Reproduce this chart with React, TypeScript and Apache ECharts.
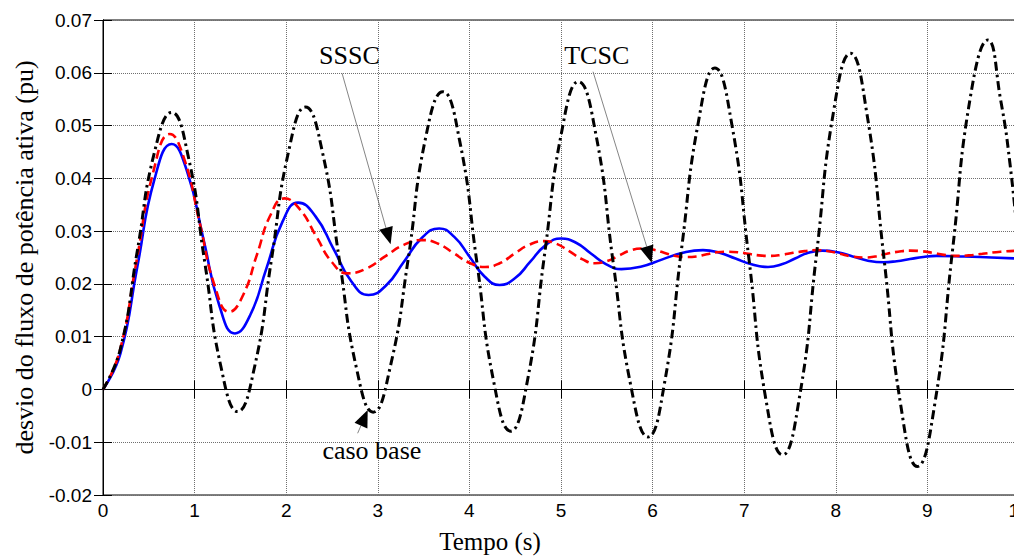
import { useEffect, useRef } from "react";
import * as echarts from "echarts";

// caso base (black dash-dot)
const casoBase: [number, number][] = [
  [0, 0], [0.19, 0.0077], [0.375, 0.0263], [0.56, 0.0448], [0.75, 0.0525],
  [0.93, 0.0442], [1.11, 0.0242], [1.29, 0.0041], [1.47, -0.0042],
  [1.655, 0.0043], [1.84, 0.0247], [2.025, 0.045], [2.21, 0.0535],
  [2.395, 0.045], [2.58, 0.0246], [2.765, 0.0042], [2.95, -0.0043],
  [3.14, 0.0046], [3.33, 0.0245], [3.52, 0.0475], [3.71, 0.0564],
  [3.895, 0.047], [4.08, 0.0243], [4.265, 0.0015], [4.45, -0.0079],
  [4.635, 0.0018], [4.82, 0.0255], [5.005, 0.0486], [5.19, 0.0583],
  [5.38, 0.0484], [5.57, 0.024], [5.76, 0.0009], [5.95, -0.009],
  [6.13, 0.0012], [6.315, 0.0265], [6.5, 0.0507], [6.68, 0.0609],
  [6.865, 0.0502], [7.05, 0.025], [7.235, -0.0017], [7.42, -0.0124],
  [7.605, -0.0013], [7.79, 0.0257], [7.975, 0.0526], [8.16, 0.0637],
  [8.34, 0.0522], [8.525, 0.025], [8.71, -0.0031], [8.89, -0.0146],
  [9.08, -0.0028], [9.275, 0.0265], [9.47, 0.0555], [9.66, 0.0662],
  [9.8, 0.0548], [9.9, 0.043], [10, 0.026],
];

// SSSC (red dashed)
const sssc: [number, number][] = [
  [0, 0], [0.18, 0.0071], [0.365, 0.0242], [0.55, 0.0413], [0.73, 0.0484],
  [0.89, 0.0435], [1.055, 0.0316], [1.22, 0.0196], [1.38, 0.0147],
  [1.53, 0.0179], [1.68, 0.0255], [1.83, 0.0331], [1.98, 0.0362],
  [2.15, 0.0341], [2.325, 0.0291], [2.5, 0.0241], [2.67, 0.022],
  [2.875, 0.0229], [3.08, 0.0252], [3.285, 0.0274], [3.49, 0.0283],
  [3.66, 0.0276], [3.83, 0.0258], [4.0, 0.024], [4.17, 0.0232],
  [4.33, 0.0239], [4.49, 0.0257], [4.65, 0.0274], [4.81, 0.0281],
  [4.95, 0.0276], [5.09, 0.0262], [5.23, 0.0247], [5.37, 0.0239],
  [5.5, 0.0243], [5.625, 0.0253], [5.75, 0.0263], [5.88, 0.0267],
  [6.0, 0.0265], [6.125, 0.0259], [6.25, 0.0253], [6.37, 0.0251],
  [6.48, 0.0252], [6.59, 0.0256], [6.7, 0.026], [6.81, 0.0261],
  [6.93, 0.026], [7.045, 0.0257], [7.16, 0.0254], [7.28, 0.0253],
  [7.41, 0.0255], [7.535, 0.0259], [7.66, 0.0262], [7.79, 0.0264],
  [7.92, 0.0262], [8.045, 0.0257], [8.17, 0.0252], [8.3, 0.025],
  [8.43, 0.0252], [8.555, 0.0257], [8.68, 0.0261], [8.81, 0.0263],
  [8.93, 0.0262], [9.05, 0.0259], [9.18, 0.0255], [9.3, 0.0253],
  [9.45, 0.0254], [9.6, 0.0257], [9.8, 0.0261], [10, 0.0263],
];

// TCSC (blue solid)
const tcsc: [number, number][] = [
  [0, 0], [0.19, 0.0068], [0.375, 0.0233], [0.56, 0.0397], [0.75, 0.0465],
  [0.92, 0.0412], [1.095, 0.0286], [1.27, 0.0159], [1.44, 0.0106],
  [1.61, 0.0142], [1.785, 0.023], [1.96, 0.0318], [2.13, 0.0354],
  [2.32, 0.0328], [2.515, 0.0267], [2.71, 0.0205], [2.9, 0.0179],
  [3.09, 0.0197], [3.285, 0.0242], [3.48, 0.0287], [3.67, 0.0305],
  [3.835, 0.0289], [4.0, 0.0252], [4.165, 0.0214], [4.33, 0.0198],
  [4.5, 0.0211], [4.665, 0.0242], [4.83, 0.0273], [5.0, 0.0286],
  [5.165, 0.0278], [5.33, 0.0257], [5.495, 0.0237], [5.66, 0.0228],
  [5.88, 0.0233], [6.1, 0.0246], [6.33, 0.0259], [6.55, 0.0264],
  [6.73, 0.0259], [6.905, 0.0248], [7.08, 0.0237], [7.26, 0.0232],
  [7.41, 0.0237], [7.555, 0.0248], [7.7, 0.0259], [7.85, 0.0263],
  [8.02, 0.026], [8.185, 0.0252], [8.35, 0.0244], [8.52, 0.0241],
  [8.665, 0.0243], [8.81, 0.0247], [8.955, 0.0251], [9.1, 0.0253],
  [9.4, 0.0252], [9.7, 0.025], [10, 0.0248],
];

const xName = "Tempo (s)";
const yName = "desvio do fluxo de potência ativa (pu)";

// annotations: label position, leader start, arrow tip (data coords)
const annotations = [
  { label: "SSSC", at: [2.69, 0.0633], from: [2.61, 0.0599], to: [3.14, 0.0275] },
  { label: "TCSC", at: [5.39, 0.0632], from: [5.35, 0.0602], to: [5.99, 0.024] },
  { label: "caso base", at: [2.935, -0.0115], from: [2.78, -0.0083], to: [2.89, -0.0039] },
];

const serif = '"Liberation Serif", "Times New Roman", serif';
const sans = '"Liberation Sans", Arial, sans-serif';

const CHART_W = 1040;

export default function App() {
  const ref = useRef<HTMLDivElement>(null);
  useEffect(() => {
    if (!ref.current) return;
    const chart = echarts.init(ref.current, null, { renderer: "svg" });
    const tickLabel = { color: "#000", fontFamily: sans, fontSize: 19 };
    chart.setOption({
      animation: false,
      backgroundColor: "#fff",
      grid: { left: 103, top: 20, right: CHART_W - 1019, bottom: 64, show: true, borderColor: "#000", borderWidth: 1, backgroundColor: "transparent" },
      xAxis: [
        {
          type: "value", min: 0, max: 10, interval: 1,
          name: xName, nameLocation: "middle", nameGap: 34,
          nameTextStyle: { fontFamily: serif, fontSize: 25, color: "#000", padding: [0, 142, 0, 0] },
          axisLine: { show: true, lineStyle: { color: "#000", width: 1 } },
          axisTick: { show: true, inside: true, length: 9, lineStyle: { color: "#000" } },
          axisLabel: { ...tickLabel, margin: 6 },
          splitLine: { show: true, lineStyle: { color: "#6f6f6f", type: "dotted", width: 1 } },
        },
        {
          type: "value", min: 0, max: 10, interval: 1, position: "top",
          axisLine: { show: true, lineStyle: { color: "#000" } },
          axisTick: { show: true, inside: true, length: 9, lineStyle: { color: "#000" } },
          axisLabel: { show: false }, splitLine: { show: false },
        },
      ],
      yAxis: [
        {
          type: "value", min: -0.02, max: 0.07, interval: 0.01,
          name: yName, nameLocation: "middle", nameGap: 66,
          nameTextStyle: { fontFamily: serif, fontSize: 26, color: "#000" },
          axisLine: { show: true, lineStyle: { color: "#000", width: 1 } },
          axisTick: { show: true, inside: true, length: 9, lineStyle: { color: "#000" } },
          axisLabel: {
            ...tickLabel, margin: 11, padding: [6, 0, 0, 0],
            formatter: (v: number) => String(Math.round(v * 100) / 100),
          },
          splitLine: { show: true, lineStyle: { color: "#6f6f6f", type: "dotted", width: 1 } },
        },
        {
          type: "value", min: -0.02, max: 0.07, interval: 0.01, position: "right",
          axisLine: { show: true, lineStyle: { color: "#000" } },
          axisTick: { show: true, inside: true, length: 9, lineStyle: { color: "#000" } },
          axisLabel: { show: false }, splitLine: { show: false },
        },
      ],
      series: [
        {
          name: "TCSC", type: "line", data: tcsc, smooth: 0.5, showSymbol: false,
          lineStyle: { color: "#0000ff", width: 2.6, type: "solid" },
        },
        {
          name: "SSSC", type: "line", data: sssc, smooth: 0.5, showSymbol: false,
          lineStyle: { color: "#ff0000", width: 2.6, type: [9, 5] },
        },
        {
          name: "caso base", type: "line", data: casoBase, smooth: 0.5, showSymbol: false,
          lineStyle: { color: "#000", width: 3, type: [9, 4, 2.5, 4] },
        },
      ],
    });

    const graphics: any[] = [];
    for (const a of annotations) {
      const pt = chart.convertToPixel({ gridIndex: 0 }, a.at) as number[];
      const p0 = chart.convertToPixel({ gridIndex: 0 }, a.from) as number[];
      const p1 = chart.convertToPixel({ gridIndex: 0 }, a.to) as number[];
      const dx = p1[0] - p0[0];
      const dy = p1[1] - p0[1];
      const len = Math.hypot(dx, dy) || 1;
      const ux = dx / len;
      const uy = dy / len;
      const L = 17;
      const W = 7;
      const bx = p1[0] - L * ux;
      const by = p1[1] - L * uy;
      graphics.push({
        type: "line", z: 10,
        shape: { x1: p0[0], y1: p0[1], x2: bx, y2: by },
        style: { stroke: "#666", lineWidth: 0.8 },
      });
      graphics.push({
        type: "polygon", z: 10,
        shape: { points: [[p1[0], p1[1]], [bx - W * uy, by + W * ux], [bx + W * uy, by - W * ux]] },
        style: { fill: "#000" },
      });
      graphics.push({
        type: "text", z: 10, x: pt[0], y: pt[1],
        style: { text: a.label, fontFamily: serif, fontSize: 26, fill: "#000", align: "center", verticalAlign: "middle" },
      });
    }
    chart.setOption({ graphic: graphics });
    return () => chart.dispose();
  }, []);
  return (
    <div style={{ position: "fixed", left: 0, top: 0, width: 1014, height: 559, overflow: "hidden", background: "#fff" }}>
      <div ref={ref} style={{ width: CHART_W, height: 559 }} />
    </div>
  );
}
